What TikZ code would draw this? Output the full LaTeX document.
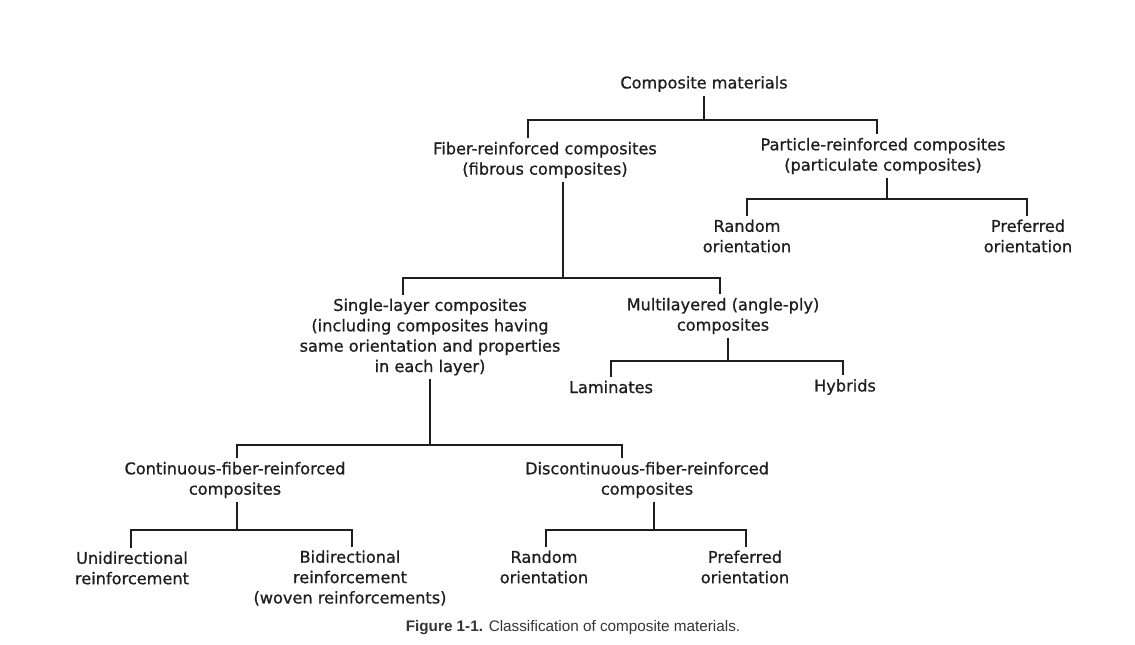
\documentclass[tikz,border=0pt]{standalone}
\usepackage{fontspec}
\setmainfont{DejaVu Sans}[FakeBold=0.8]
\newfontfamily\capfont{Liberation Sans}
\usetikzlibrary{positioning,calc}
\definecolor{ink}{HTML}{1E1E1E}
\tikzset{
  lbl/.style ={align=center,text=ink,inner sep=2pt,
               font=\fontsize{9.2}{11.6}\selectfont},
  lnk/.style ={draw=ink,line width=1.4pt,line join=miter},
  figcap/.style ={text=ink!90,inner sep=0pt,font=\capfont\fontsize{8.7}{10}\selectfont},
}

\begin{document}
\begin{tikzpicture}[x=0.02cm,y=-0.02cm]
  \useasboundingbox (0,0) rectangle (1135,645);

  % level 0 and 1
  \node[lbl] (cm)  at (704,84)  {Composite materials};
  \node[lbl] (fib) at (545,160) {Fiber-reinforced composites\\(fibrous composites)};
  \node[lbl] (prt) at (883,156) {Particle-reinforced composites\\(particulate composites)};
  \coordinate (cmL) at (528,120);
  \coordinate (cmR) at (877,120);
  \draw[lnk] (cm.south) -- (cm.south |- cmL);
  \draw[lnk] (cmL |- fib.north) -- (cmL) -- (cmR) -- (cmR |- prt.north);

  % particulate branch
  \node[lbl] (prnd)  at (747,236)  {Random\\orientation};
  \node[lbl] (ppref) at (1028,236) {Preferred\\orientation};
  \coordinate (prtL) at (747,199);
  \coordinate (prtM) at (887,199);
  \coordinate (prtR) at (1027,199);
  \draw[lnk] (prtM |- prt.south) -- (prtM);
  \draw[lnk] (prtL |- prnd.north) -- (prtL) -- (prtR) -- (prtR |- ppref.north);

  % fibrous branch
  \node[lbl] (sgl) at (430,337) {Single-layer composites\\(including composites having\\same orientation and properties\\in each layer)};
  \node[lbl] (mul) at (723,316) {Multilayered (angle-ply)\\composites};
  \coordinate (fibL) at (403,278);
  \coordinate (fibM) at (563,278);
  \coordinate (fibR) at (720,278);
  \draw[lnk] (fibM |- fib.south) -- (fibM);
  \draw[lnk] (fibL |- sgl.north) -- (fibL) -- (fibR) -- (fibR |- mul.north);

  % multilayered
  \node[lbl] (lam) at (611,387) {Laminates};
  \node[lbl] (hyb) at (845,387) {Hybrids};
  \coordinate (mulL) at (611,361);
  \coordinate (mulM) at (728,361);
  \coordinate (mulR) at (843,361);
  \draw[lnk] (mulM |- mul.south) -- (mulM);
  \draw[lnk] (mulL |- lam.north) -- (mulL) -- (mulR) -- (mulR |- hyb.north);

  % single-layer
  \node[lbl] (con) at (235,480) {Continuous-fiber-reinforced\\composites};
  \node[lbl] (dis) at (647,480) {Discontinuous-fiber-reinforced\\composites};
  \coordinate (sglL) at (237,445);
  \coordinate (sglM) at (430,445);
  \coordinate (sglR) at (622,445);
  \draw[lnk] (sglM |- sgl.south) -- (sglM);
  \draw[lnk] (sglL |- con.north) -- (sglL) -- (sglR) -- (sglR |- dis.north);

  % continuous
  \node[lbl] (uni) at (132,568) {Unidirectional\\reinforcement};
  \node[lbl] (bid) at (350,578) {Bidirectional\\reinforcement\\(woven reinforcements)};
  \coordinate (conL) at (131,530);
  \coordinate (conM) at (237,530);
  \coordinate (conR) at (352,530);
  \draw[lnk] (conM |- con.south) -- (conM);
  \draw[lnk] (conL |- uni.north) -- (conL) -- (conR) -- (conR |- bid.north);

  % discontinuous
  \node[lbl] (drnd)  at (544,567) {Random\\orientation};
  \node[lbl] (dpref) at (745,567) {Preferred\\orientation};
  \coordinate (disL) at (546,530);
  \coordinate (disM) at (654,530);
  \coordinate (disR) at (746,530);
  \draw[lnk] (disM |- dis.south) -- (disM);
  \draw[lnk] (disL |- drnd.north) -- (disL) -- (disR) -- (disR |- dpref.north);

  % caption
  \node[figcap] (caption) at (573,628) {\textbf{Figure 1-1.} Classification of composite materials.};
\end{tikzpicture}
\end{document}
